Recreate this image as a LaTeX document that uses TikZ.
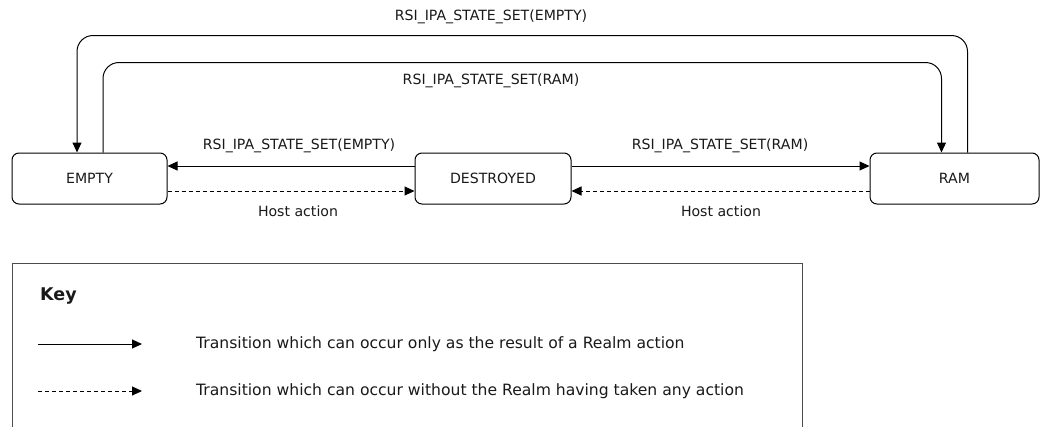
\documentclass[tikz,border=0pt]{standalone}
\usepackage{fontspec}
\setmainfont{DejaVu Sans}
\usetikzlibrary{arrows.meta}
\begin{document}
\begin{tikzpicture}[x=1pt,y=-1pt,
  every node/.style={font=\fontsize{14.1}{16}\selectfont, text=black!90},
  state/.style={draw, line width=1pt, rounded corners=7pt, minimum height=51pt, inner sep=0pt},
  conn/.style={line width=1pt, -{Triangle[length=10pt,width=9pt]}},
  hostconn/.style={conn, dash pattern=on 4pt off 3pt},
  loop/.style={conn, rounded corners=16pt},
  lbl/.style={inner sep=0pt},
  keytxt/.style={inner sep=0pt, anchor=west, font=\fontsize{15.6}{18}\selectfont}]
\useasboundingbox (0,0) rectangle (1042,426);
\node[state, minimum width=155pt] (empty) at (89.5,178.5) {EMPTY};
\node[state, minimum width=156pt] (destroyed) at (493,178.5) {DESTROYED};
\node[state, minimum width=169pt] (ram) at (954.5,178.5) {RAM};
% horizontal transitions
\draw[conn] ([yshift=12.5pt]destroyed.west) -- ([yshift=12.5pt]empty.east);
\draw[hostconn] ([yshift=-12.5pt]empty.east) -- ([yshift=-12.5pt]destroyed.west);
\draw[conn] ([yshift=12.5pt]destroyed.east) -- ([yshift=12.5pt]ram.west);
\draw[hostconn] ([yshift=-12.5pt]ram.west) -- ([yshift=-12.5pt]destroyed.east);
\node[lbl] (l1) at (299,146) {RSI\_IPA\_STATE\_SET(EMPTY)};
\node[lbl] (l2) at (298,211) {Host action};
\node[lbl] (l3) at (720,146) {RSI\_IPA\_STATE\_SET(RAM)};
\node[lbl] (l4) at (721,211) {Host action};
% loops
\draw[loop] ([xshift=13pt]ram.north) -- ++(0,-117) -| ([xshift=-12.5pt]empty.north);
\draw[loop] ([xshift=13.5pt]empty.north) -- ++(0,-90) -| ([xshift=-13pt]ram.north);
\node[lbl] (l5) at (491,17) {RSI\_IPA\_STATE\_SET(EMPTY)};
\node[lbl] (l6) at (491,81) {RSI\_IPA\_STATE\_SET(RAM)};
% key
\draw[line width=1pt, draw=black!70] (12,440) |- (802,263) -- (802,440);
\node[lbl, anchor=west, font=\bfseries\fontsize{17.5}{20}\selectfont] (key) at (40,296) {Key};
\coordinate (s1) at (38,344);
\coordinate (s2) at (142,344);
\coordinate (d1) at (38,391);
\coordinate (d2) at (142,391);
\draw[conn] (s1) -- (s2);
\draw[hostconn] (d1) -- (d2);
\node[keytxt] (k1) at (196,344) {Transition which can occur only as the result of a Realm action};
\node[keytxt] (k2) at (196,391) {Transition which can occur without the Realm having taken any action};
\end{tikzpicture}
\end{document}
